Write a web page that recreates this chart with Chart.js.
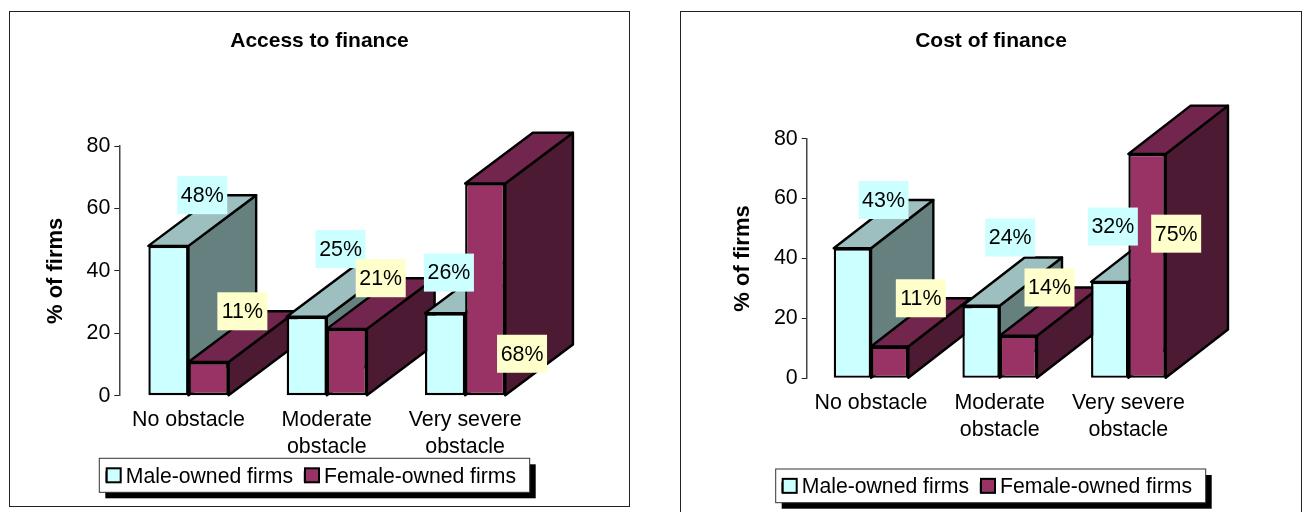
<!DOCTYPE html>
<html>
<head>
<meta charset="utf-8">
<title>Access to and cost of finance</title>
<script src="https://cdn.jsdelivr.net/npm/chart.js@4"></script>
<style>
  html, body { margin: 0; padding: 0; width: 1303px; height: 512px; overflow: hidden; background: #fff; }
  .panel { position: absolute; box-sizing: border-box; }
  .panel canvas { position: absolute; left: 0; top: 0; }
  .frame { position: absolute; box-sizing: border-box; border: 1.5px solid #222; pointer-events: none; }
</style>
</head>
<body>
<div class="panel" style="left:9px;top:11px;width:621px;height:496px"><canvas id="access"></canvas></div>
<div class="frame" style="left:9px;top:11px;width:621px;height:496px"></div>
<div class="panel" style="left:680px;top:11px;width:622px;height:501px"><canvas id="cost"></canvas></div>
<div class="frame" style="left:680px;top:11px;width:622px;height:520px"></div>
<script>
const categories = ["No obstacle", ["Moderate", "obstacle"], ["Very severe", "obstacle"]];
const seriesNames = ["Male-owned firms", "Female-owned firms"];
const yTicks = [0, 20, 40, 60, 80];

const accessMale = [48, 25.3, 26.4];
const accessFemale = [10.8, 21.4, 68];
const costMale = [43.4, 24.2, 32.2];
const costFemale = [10.6, 14.2, 74.9];

const maleColors = { front: "#CCFFFF", top: "#9DBFBF", side: "#668080" };
const femaleColors = { front: "#993366", top: "#73264D", side: "#4D1A33" };
const textSize = 21.4;
const legendSize = 21.2;

// 3D bars: side + top from the bar's own element, then the front
const bars3d = {
    id: "bars3d",
    beforeDatasetsDraw(chart, args, opts) {
        const c = chart.ctx;
        const metas = chart.getSortedVisibleDatasetMetas();
        categories.forEach((cat, i) => {
            metas.forEach((meta, d) => {
                const el = meta.data[i];
                const pal = d === 0 ? maleColors : femaleColors;
                const l = el.x - el.width / 2, r = el.x + el.width / 2;
                c.save();
                c.lineWidth = 2.4;
                c.strokeStyle = "#000";
                c.lineJoin = "round";
                c.fillStyle = pal.side;
                c.beginPath();
                c.moveTo(r, el.y);
                c.lineTo(r + opts.dx, el.y - opts.dy);
                c.lineTo(r + opts.dx, el.base - opts.dy);
                c.lineTo(r, el.base);
                c.closePath();
                c.fill();
                c.stroke();
                c.fillStyle = pal.top;
                c.beginPath();
                c.moveTo(l, el.y);
                c.lineTo(l + opts.dx, el.y - opts.dy);
                c.lineTo(r + opts.dx, el.y - opts.dy);
                c.lineTo(r, el.y);
                c.closePath();
                c.fill();
                c.stroke();
                c.restore();
                el.draw(c);
            });
        });
        // data labels go on top of all bars
        metas.forEach((meta, d) => {
            meta.data.forEach((el, i) => {
                const nudge = opts.nudges[d][i];
                const cx = el.x + opts.dx / 2 + nudge[0];
                const cy = el.y - opts.dy + nudge[1];
                c.fillStyle = d === 0 ? "#CCFFFF" : "#FFFFCC";
                c.fillRect(cx - 25, cy - 19, 50, 38);
                c.fillStyle = "#000";
                c.font = textSize + "px 'Liberation Sans'";
                c.textAlign = "center";
                c.textBaseline = "middle";
                c.fillText(Math.round(chart.data.datasets[d].data[i]) + "%", cx, cy + 1);
            });
        });
        return false;
    }
};

// legend box with a drop shadow, moved to where the reference has it
const legendBox = {
    id: "legendBox",
    afterLayout(chart, args, opts) {
        const lg = chart.legend;
        const pad = lg.options.labels.padding;
        const w = lg.width, h = lg.height;
        lg.left = opts.markerX - pad;
        lg.right = lg.left + w;
        lg.top = (opts.y0 + opts.y1) / 2 - pad - legendSize / 2 + 1.5;
        lg.bottom = lg.top + h;
        // title centres on the whole panel, not on the padded area
        chart.titleBlock.left = 0;
        chart.titleBlock.right = chart.width;
    },
    beforeDraw(chart, args, opts) {
        const c = chart.ctx;
        const w = opts.x1 - opts.x0, h = opts.y1 - opts.y0;
        c.fillStyle = "#000";
        c.fillRect(opts.x0 + 6, opts.y0 + 6, w, h);
        c.fillStyle = "#fff";
        c.fillRect(opts.x0, opts.y0, w, h);
        c.strokeStyle = "#333";
        c.lineWidth = 1;
        c.strokeRect(opts.x0, opts.y0, w, h);
    },
    afterDraw(chart, args, opts) {
        const c = chart.ctx;
        const hits = chart.legend.legendHitBoxes;
        const cy = (opts.y0 + opts.y1) / 2;
        chart.legend.legendItems.forEach((item, i) => {
            const x = opts.markerX + hits[i].left - hits[0].left;
            c.fillStyle = item.fillStyle;
            c.fillRect(x, cy - 7, 14, 14);
            c.strokeStyle = "#000";
            c.lineWidth = 2;
            c.strokeRect(x, cy - 7, 14, 14);
        });
    }
};

function makeChart(id, title, male, female, size, plot, box, depth, nudges) {
    const canvas = document.getElementById(id);
    canvas.width = size.w;
    canvas.height = size.h;
    return new Chart(canvas, {
        type: "bar",
        data: {
            labels: categories,
            datasets: [
                { label: seriesNames[0], data: male, backgroundColor: maleColors.front },
                { label: seriesNames[1], data: female, backgroundColor: femaleColors.front }
            ]
        },
        options: {
            responsive: false,
            animation: false,
            layout: { padding: { left: 0, top: 0, right: size.w - plot.right, bottom: 0 } },
            datasets: {
                bar: {
                    categoryPercentage: 0.58,
                    barPercentage: 1,
                    borderColor: "#000",
                    borderWidth: 2.4,
                    borderSkipped: false
                }
            },
            scales: {
                x: {
                    grid: { display: false },
                    border: { display: false },
                    ticks: { padding: 3, maxRotation: 0, autoSkip: false, color: "#000", font: { size: textSize, lineHeight: 1.27 } },
                    afterFit: (s) => { s.height = size.h - plot.bottom - (legendSize + 22); }
                },
                y: {
                    min: 0,
                    max: 80,
                    afterFit: (s) => { s.width = plot.left; },
                    afterBuildTicks: (s) => { s.ticks = yTicks.map((v) => ({ value: v })); },
                    grid: { drawOnChartArea: false, tickLength: 5, tickColor: "#222", tickWidth: 1 },
                    border: { color: "#444", width: 1.5 },
                    ticks: { padding: 4, color: "#000", font: { size: textSize } },
                    title: {
                        display: true,
                        text: "% of firms",
                        color: "#000",
                        font: { size: 22, weight: "bold" },
                        padding: { top: plot.yTitle, bottom: 0 }
                    }
                }
            },
            plugins: {
                title: {
                    display: true,
                    text: title,
                    color: "#000",
                    font: { size: 21, weight: "bold" },
                    padding: { top: 18, bottom: plot.top - 18 - 25.2 }
                },
                legend: {
                    position: "bottom",
                    align: "start",
                    labels: { color: "#000", boxWidth: 8.5, boxHeight: 8.5, padding: 12, font: { size: legendSize } }
                },
                tooltip: { enabled: false },
                bars3d: { dx: depth.dx, dy: depth.dy, nudges: nudges },
                legendBox: box
            }
        },
        plugins: [bars3d, legendBox]
    });
}

Chart.defaults.font.family = "'Liberation Sans', Arial, sans-serif";

makeChart("access", "Access to finance", accessMale, accessFemale,
    { w: 621, h: 496 },
    { left: 110.3, right: 525.3, top: 135, bottom: 384.7, yTitle: 34 },
    { x0: 90.3, x1: 520.7, y0: 447.3, y1: 481.3, markerX: 97.7 },
    { dx: 67.7, dy: 50.7 },
    [[[0, 0], [0, -17], [-30, 10]], [[0, 0], [0, 0], [3, 221]]]);

makeChart("cost", "Cost of finance", costMale, costFemale,
    { w: 622, h: 501 },
    { left: 126.7, right: 512.7, top: 127.7, bottom: 367.3, yTitle: 50 },
    { x0: 95.7, x1: 525.7, y0: 458, y1: 491.7, markerX: 102.7 },
    { dx: 62.3, dy: 48.3 },
    [[[0, 0], [-2, -20], [-28, -7]], [[0, 0], [0, 0], [-2, 128]]]);
</script>
</body>
</html>
